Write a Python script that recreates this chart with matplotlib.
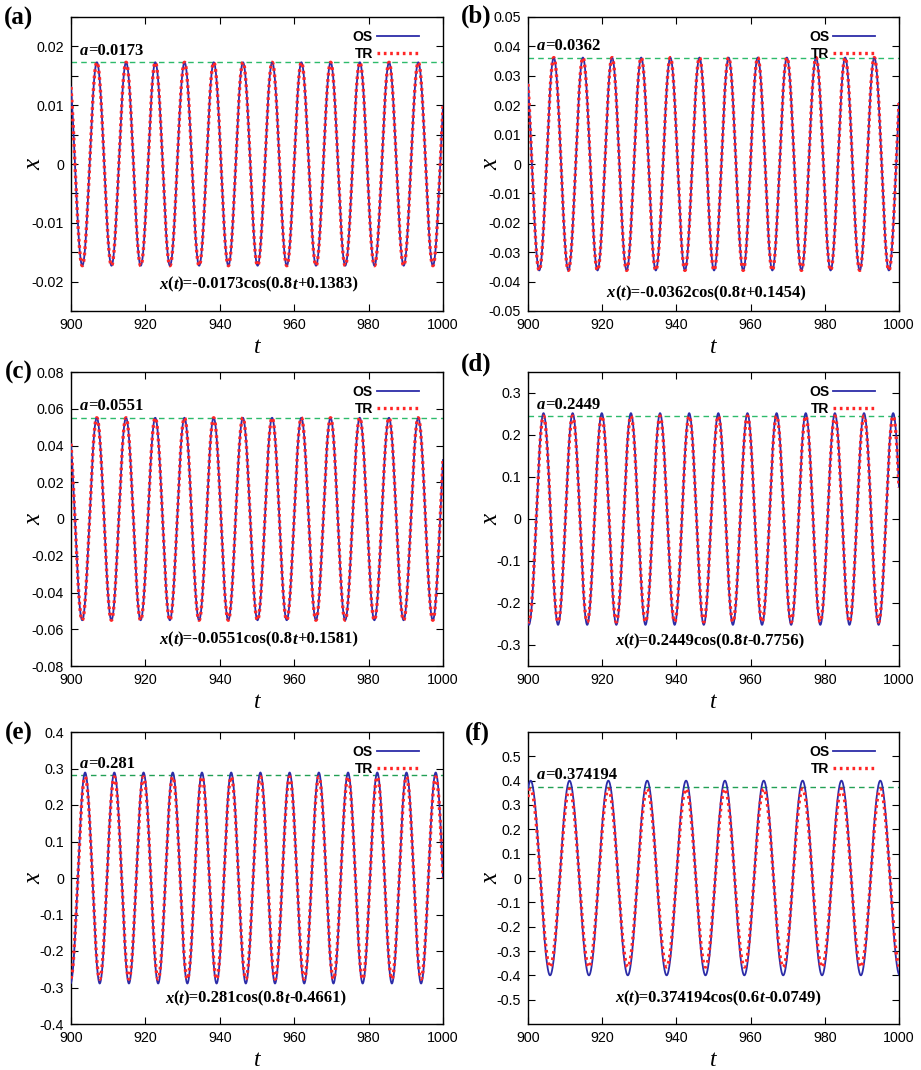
import matplotlib
matplotlib.use('Agg')
import matplotlib.pyplot as plt
import numpy as np
from matplotlib.ticker import MultipleLocator, FixedLocator, FuncFormatter
from matplotlib.offsetbox import TextArea, HPacker, AnnotationBbox

plt.rcParams['font.family'] = 'Liberation Sans'

# panel names and the amplitude printed above each dashed line
panels = ['(a)', '(b)', '(c)', '(d)', '(e)', '(f)']
a_text = ['0.0173', '0.0362', '0.0551', '0.2449', '0.281', '0.374194']
a_value = [0.0173, 0.0362, 0.0551, 0.2449, 0.281, 0.374194]

# x(t) = A cos(w t + phi), the formula printed in each panel
amp_text = ['-0.0173', '-0.0362', '-0.0551', '0.2449', '0.281', '0.374194']
w_text = ['0.8', '0.8', '0.8', '0.8', '0.8', '0.6']
phi_text = ['+0.1383', '+0.1454', '+0.1581', '-0.7756', '-0.4661', '-0.0749']
amp_sign = [-1, -1, -1, 1, 1, 1]
omega = [0.8, 0.8, 0.8, 0.8, 0.8, 0.6]
phase = [0.1383, 0.1454, 0.1581, -0.7756, -0.4661, -0.0749]

# peak heights of the two curves
os_peak = [0.0173, 0.0362, 0.0551, 0.252, 0.289, 0.400]
tr_peak = [0.0173, 0.0362, 0.0551, 0.245, 0.277, 0.366]

# axis settings
t_range = (900, 1000)
y_lim = [0.025, 0.05, 0.08, 0.35, 0.4, 0.6]
y_step = [0.01, 0.01, 0.02, 0.1, 0.1, 0.1]
y_label_max = [0.02, 0.05, 0.08, 0.3, 0.4, 0.5]
y_minor = [0.005, None, None, None, None, None]

# layout (pixels in the 921x1070 picture)
W, H = 921.0, 1070.0
col_x = [(71, 443), (528, 899)]
row_y = [(17, 311), (372, 666), (732, 1024)]
label_pos = [(4, 18), (461, 16), (5, 372), (461, 364), (5, 733), (465, 733)]
formula_x = [0.505, 0.48, 0.505, 0.49, 0.496, 0.512]
formula_y = [0.09, 0.06, 0.09, 0.085, 0.086, 0.089]
dash_color = ['#2dbb6b', '#2dbb6b', '#2dbb6b', '#2dbb6b', '#22a055', '#22a055']

os_color = '#2c2ca8'
tr_color = '#ff2626'
serif = 'Liberation Serif'


def fmt(v, pos):
    v = round(v, 6)
    if v == 0:
        return '0'
    return '%g' % v


def rich(parts, size):
    # row of text pieces, (text, italic?) sharing one baseline
    boxes = []
    for s, it in parts:
        boxes.append(TextArea(s, textprops=dict(family=serif, weight='bold', size=size,
                                                style='italic' if it else 'normal')))
    return HPacker(children=boxes, align='baseline', pad=0, sep=0)


fig = plt.figure(figsize=(W / 100, H / 100), dpi=100)

t = np.linspace(t_range[0], t_range[1], 5000)

for i in range(6):
    r, c = i // 2, i % 2
    x0, x1 = col_x[c]
    y0, y1 = row_y[r]
    ax = fig.add_axes([x0 / W, 1 - y1 / H, (x1 - x0) / W, (y1 - y0) / H])

    wave = amp_sign[i] * np.cos(omega[i] * t + phase[i])
    ax.plot(t, os_peak[i] * wave, color=os_color, lw=1.3, label='OS', zorder=3)
    ax.plot(t, tr_peak[i] * wave, color=tr_color, lw=2.4, ls=(0, (0.8, 1.1)), label='TR', zorder=4)
    ax.axhline(a_value[i], color=dash_color[i], lw=1.0, ls=(0, (4, 3)), zorder=2)

    ax.set_xlim(*t_range)
    ax.set_ylim(-y_lim[i], y_lim[i])
    ax.xaxis.set_major_locator(MultipleLocator(20))
    n = int(round(y_label_max[i] / y_step[i]))
    ax.yaxis.set_major_locator(FixedLocator(np.arange(-n, n + 1) * y_step[i]))
    if y_minor[i]:
        ax.yaxis.set_minor_locator(MultipleLocator(y_minor[i]))
    ax.xaxis.set_major_formatter(FuncFormatter(fmt))
    ax.yaxis.set_major_formatter(FuncFormatter(fmt))
    ax.tick_params(which='both', direction='in', top=True, right=True, length=5, width=0.8,
                   labelsize=10.3, pad=5)
    for sp in ax.spines.values():
        sp.set_linewidth(1.0)

    ax.set_xlabel('t', family=serif, style='italic', size=17, va='baseline')
    ax.set_ylabel('x', family=serif, style='italic', size=18)
    ax.xaxis.set_label_coords(0.5, -0.143)
    ax.yaxis.set_label_coords(-0.068, 0.5)

    ax.legend(loc='upper right', bbox_to_anchor=(0.935, 0.957), frameon=False, markerfirst=False,
              handlelength=3.0, handletextpad=0.3, labelspacing=0.22, borderpad=0, borderaxespad=0,
              prop=dict(family='Liberation Sans', weight='bold', size=10))

    # a=... just above the dashed line
    lab = rich([('a', True), ('=' + a_text[i], False)], 12)
    ab = AnnotationBbox(lab, (0.024, a_value[i]), xycoords=('axes fraction', 'data'),
                        xybox=(0, 2.5), boxcoords='offset points', box_alignment=(0, 0),
                        frameon=False)
    ax.add_artist(ab)

    # fitted formula near the bottom
    form = rich([('x', True), ('(', False), ('t', True),
                 (')=' + amp_text[i] + 'cos(' + w_text[i], False), ('t', True),
                 (phi_text[i] + ')', False)], 12)
    fb = AnnotationBbox(form, (formula_x[i], formula_y[i]), xycoords='axes fraction',
                        box_alignment=(0.5, 0.5), frameon=False)
    ax.add_artist(fb)

    lx, ly = label_pos[i]
    fig.text(lx / W, 1 - ly / H, panels[i], family=serif, weight='bold', size=18,
             ha='left', va='center')

fig.savefig('out.png', dpi=100)
